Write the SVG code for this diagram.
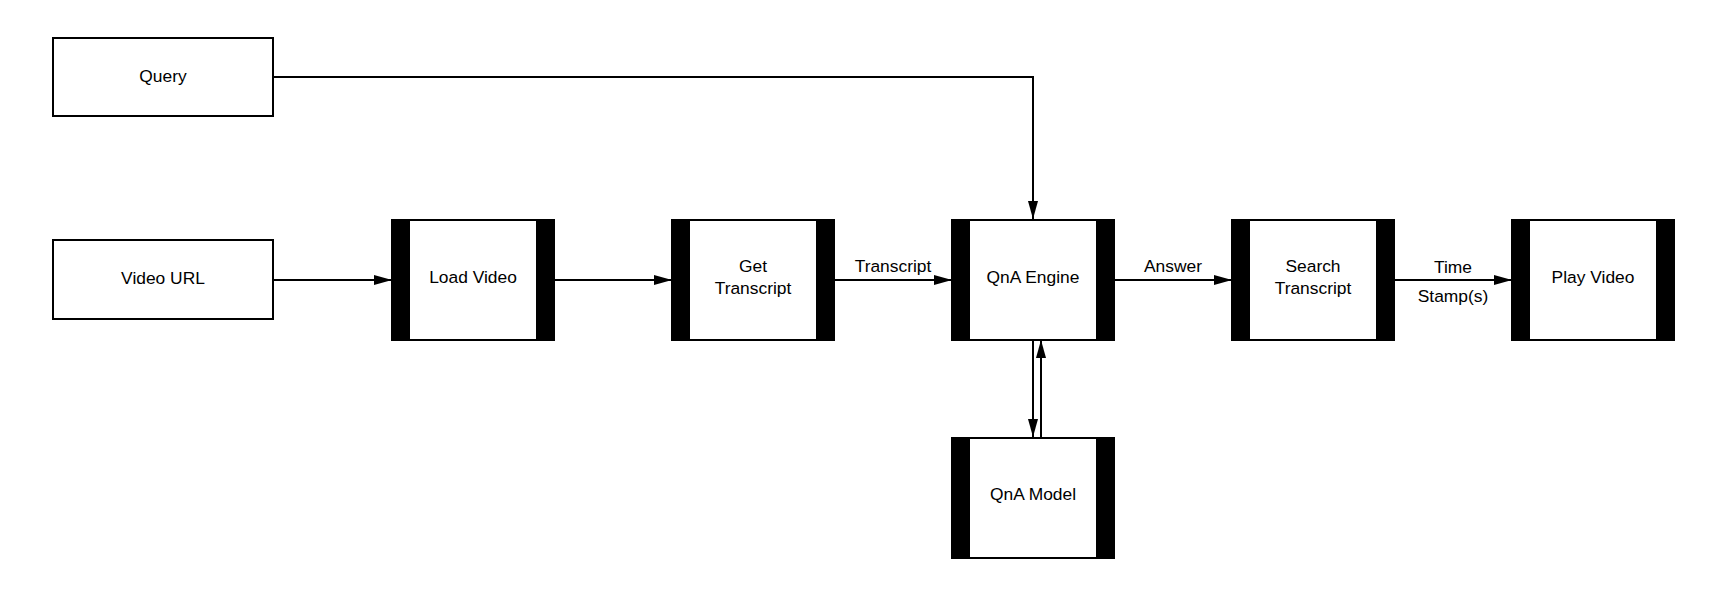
<svg xmlns="http://www.w3.org/2000/svg" width="1711" height="595" viewBox="0 0 1711 595">
<style>
.box{fill:#fff;stroke:#000;stroke-width:2}
.bar{fill:#000}
.t{font-family:"Liberation Sans",Arial,sans-serif;font-size:17.4px;fill:#000;text-anchor:middle}
.c{fill:none;stroke:#000;stroke-width:2}
</style>
<defs>
<marker id="ah" markerUnits="userSpaceOnUse" markerWidth="18" markerHeight="10" refX="18" refY="5" orient="auto">
<path d="M0,0 L18,5 L0,10 z" fill="#000"/>
</marker>
</defs>
<rect width="1711" height="595" fill="#fff"/>
<g id="connectors">
<path class="c" d="M273,77 H1033 V219" marker-end="url(#ah)"/>
<path class="c" d="M273,280 H392" marker-end="url(#ah)"/>
<path class="c" d="M554,280 H672" marker-end="url(#ah)"/>
<path class="c" d="M834,280 H952" marker-end="url(#ah)"/>
<text class="t" x="893" y="272">Transcript</text>
<path class="c" d="M1114,280 H1232" marker-end="url(#ah)"/>
<text class="t" x="1173" y="272">Answer</text>
<path class="c" d="M1394,280 H1512" marker-end="url(#ah)"/>
<text class="t" x="1453" y="273">Time</text>
<text class="t" x="1453" y="302">Stamp(s)</text>
<path class="c" d="M1033,340 V437" marker-end="url(#ah)"/>
<path class="c" d="M1041,437 V340" marker-end="url(#ah)"/>
</g>
<g id="query">
<rect class="box" x="53" y="38" width="220" height="78"/>
<text class="t" x="163" y="81.5">Query</text>
</g>
<g id="video-url">
<rect class="box" x="53" y="240" width="220" height="79"/>
<text class="t" x="163" y="283.5">Video URL</text>
</g>
<g id="load-video">
<rect class="box" x="392" y="220" width="162" height="120"/>
<rect class="bar" x="392" y="220" width="18" height="120"/>
<rect class="bar" x="536" y="220" width="18" height="120"/>
<text class="t" x="473" y="283">Load Video</text>
</g>
<g id="get-transcript">
<rect class="box" x="672" y="220" width="162" height="120"/>
<rect class="bar" x="672" y="220" width="18" height="120"/>
<rect class="bar" x="816" y="220" width="18" height="120"/>
<text class="t" x="753" y="272">Get</text>
<text class="t" x="753" y="294">Transcript</text>
</g>
<g id="qna-engine">
<rect class="box" x="952" y="220" width="162" height="120"/>
<rect class="bar" x="952" y="220" width="18" height="120"/>
<rect class="bar" x="1096" y="220" width="18" height="120"/>
<text class="t" x="1033" y="283">QnA Engine</text>
</g>
<g id="search-transcript">
<rect class="box" x="1232" y="220" width="162" height="120"/>
<rect class="bar" x="1232" y="220" width="18" height="120"/>
<rect class="bar" x="1376" y="220" width="18" height="120"/>
<text class="t" x="1313" y="272">Search</text>
<text class="t" x="1313" y="294">Transcript</text>
</g>
<g id="play-video">
<rect class="box" x="1512" y="220" width="162" height="120"/>
<rect class="bar" x="1512" y="220" width="18" height="120"/>
<rect class="bar" x="1656" y="220" width="18" height="120"/>
<text class="t" x="1593" y="283">Play Video</text>
</g>
<g id="qna-model">
<rect class="box" x="952" y="438" width="162" height="120"/>
<rect class="bar" x="952" y="438" width="18" height="120"/>
<rect class="bar" x="1096" y="438" width="18" height="120"/>
<text class="t" x="1033" y="500">QnA Model</text>
</g>
</svg>
